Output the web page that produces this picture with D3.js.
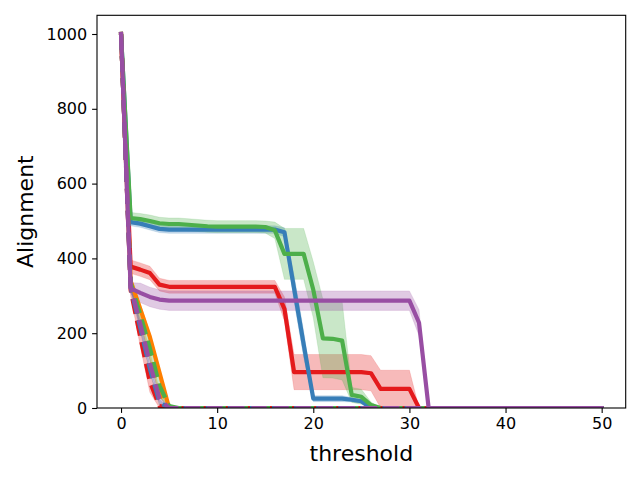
<!DOCTYPE html>
<html>
<head>
<meta charset="utf-8">
<script src="https://cdn.jsdelivr.net/npm/d3@7.9.0/dist/d3.min.js"></script>
<style>
  body { margin: 0; background: #fff; }
  svg { display: block; font-family: 'DejaVu Sans', sans-serif; }
</style>
</head>
<body>
<div id="chart"></div>
<script>
// thresholds on the x axis
const thresholds = [0,1,2,3,4,5,6,7,8,9,10,11,12,13,14,15,16,17,18,19,20,21,22,23,24,25,26,27,28,29,30,31,32,33,34,35,36,37,38,39,40,41,42,43,44,45,46,47,48,49,50];
const xTicks = [0, 10, 20, 30, 40, 50];
const yTicks = [0, 200, 400, 600, 800, 1000];

// solid runs (mean and spread)
const redSolid = [1000,378,370,361,330,324,324,324,324,324, 324,324,324,324,324,324,324,265,96,96, 96,96,96,96,96,96,93,51,51,51, 51,0,0,0,0,0,0,0,0,0, 0,0,0,0,0,0,0,0,0,0, 0];
const redSolidSd = [0,18,18,18,17,17,17,17,17,17, 17,17,17,17,17,17,17,32,47,47, 47,47,47,47,47,47,47,50,50,50, 50,0,0,0,0,0,0,0,0,0, 0,0,0,0,0,0,0,0,0,0, 0];
const blueSolid = [1000,497,493,486,479,477,477,477,477,477, 477,477,477,477,477,477,477,470,320,170, 25,25,25,25,22,18,0,0,0,0, 0,0,0,0,0,0,0,0,0,0, 0,0,0,0,0,0,0,0,0,0, 0];
const blueSolidSd = [0,10,10,10,10,10,10,10,10,10, 10,10,10,10,10,10,10,12,35,35, 8,8,8,8,6,5,0,0,0,0, 0,0,0,0,0,0,0,0,0,0, 0,0,0,0,0,0,0,0,0,0, 0];
const greenSolid = [1000,508,505,500,494,492,492,490,488,486, 485,485,485,485,485,484,475,412,412,412, 316,186,185,180,35,30,8,0,0,0, 0,0,0,0,0,0,0,0,0,0, 0,0,0,0,0,0,0,0,0,0, 0];
const greenSolidSd = [0,15,15,16,16,16,16,16,16,16, 16,16,16,16,16,16,22,68,68,68, 75,105,105,105,20,20,8,0,0,0, 0,0,0,0,0,0,0,0,0,0, 0,0,0,0,0,0,0,0,0,0, 0];
const orangeSolid = [1000,340,265,190,95,0,0,0,0,0, 0,0,0,0,0,0,0,0,0,0, 0,0,0,0,0,0,0,0,0,0, 0,0,0,0,0,0,0,0,0,0, 0,0,0,0,0,0,0,0,0,0, 0];
const orangeSolidSd = [0,10,12,12,12,0,0,0,0,0, 0,0,0,0,0,0,0,0,0,0, 0,0,0,0,0,0,0,0,0,0, 0,0,0,0,0,0,0,0,0,0, 0,0,0,0,0,0,0,0,0,0, 0];
const purpleSolid = [1000,320,308,297,290,287,287,287,287,287, 287,287,287,287,287,287,287,287,287,287, 287,287,287,287,287,287,287,287,287,287, 287,228,0,0,0,0,0,0,0,0, 0,0,0,0,0,0,0,0,0,0, 0];
const purpleSolidSd = [0,15,26,26,26,26,26,26,26,26, 26,26,26,26,26,26,26,26,26,26, 26,26,26,26,26,26,26,26,26,26, 26,35,0,0,0,0,0,0,0,0, 0,0,0,0,0,0,0,0,0,0, 0];

// dashed runs (mean and spread)
const redDash = [1000,315,190,70,5,0,0,0,0,0, 0,0,0,0,0,0,0,0,0,0, 0,0,0,0,0,0,0,0,0,0, 0,0,0,0,0,0,0,0,0,0, 0,0,0,0,0,0,0,0,0,0, 0];
const redDashSd = [0,15,25,28,10,0,0,0,0,0, 0,0,0,0,0,0,0,0,0,0, 0,0,0,0,0,0,0,0,0,0, 0,0,0,0,0,0,0,0,0,0, 0,0,0,0,0,0,0,0,0,0, 0];
const blueDash = [1000,322,215,105,15,0,0,0,0,0, 0,0,0,0,0,0,0,0,0,0, 0,0,0,0,0,0,0,0,0,0, 0,0,0,0,0,0,0,0,0,0, 0,0,0,0,0,0,0,0,0,0, 0];
const blueDashSd = [0,8,10,10,8,0,0,0,0,0, 0,0,0,0,0,0,0,0,0,0, 0,0,0,0,0,0,0,0,0,0, 0,0,0,0,0,0,0,0,0,0, 0,0,0,0,0,0,0,0,0,0, 0];
const greenDash = [1000,335,250,160,60,5,0,0,0,0, 0,0,0,0,0,0,0,0,0,0, 0,0,0,0,0,0,0,0,0,0, 0,0,0,0,0,0,0,0,0,0, 0,0,0,0,0,0,0,0,0,0, 0];
const greenDashSd = [0,15,28,32,32,6,0,0,0,0, 0,0,0,0,0,0,0,0,0,0, 0,0,0,0,0,0,0,0,0,0, 0,0,0,0,0,0,0,0,0,0, 0,0,0,0,0,0,0,0,0,0, 0];
const orangeDash = [1000,330,240,140,40,0,0,0,0,0, 0,0,0,0,0,0,0,0,0,0, 0,0,0,0,0,0,0,0,0,0, 0,0,0,0,0,0,0,0,0,0, 0,0,0,0,0,0,0,0,0,0, 0];
const orangeDashSd = [0,8,10,10,8,0,0,0,0,0, 0,0,0,0,0,0,0,0,0,0, 0,0,0,0,0,0,0,0,0,0, 0,0,0,0,0,0,0,0,0,0, 0,0,0,0,0,0,0,0,0,0, 0];
const purpleDash = [1000,325,225,120,25,0,0,0,0,0, 0,0,0,0,0,0,0,0,0,0, 0,0,0,0,0,0,0,0,0,0, 0,0,0,0,0,0,0,0,0,0, 0,0,0,0,0,0,0,0,0,0, 0];
const purpleDashSd = [0,8,10,10,8,0,0,0,0,0, 0,0,0,0,0,0,0,0,0,0, 0,0,0,0,0,0,0,0,0,0, 0,0,0,0,0,0,0,0,0,0, 0,0,0,0,0,0,0,0,0,0, 0];

const red = '#e41a1c', blue = '#377eb8', green = '#4daf4a', purple = '#984ea3', orange = '#ff7f00';

// drawing order: later entries sit on top
const series = [
  { mean: orangeSolid, sd: orangeSolidSd, color: orange, dashed: false },
  { mean: redSolid, sd: redSolidSd, color: red, dashed: false },
  { mean: blueSolid, sd: blueSolidSd, color: blue, dashed: false },
  { mean: greenSolid, sd: greenSolidSd, color: green, dashed: false },
  { mean: orangeDash, sd: orangeDashSd, color: orange, dashed: true },
  { mean: redDash, sd: redDashSd, color: red, dashed: true },
  { mean: blueDash, sd: blueDashSd, color: blue, dashed: true },
  { mean: greenDash, sd: greenDashSd, color: green, dashed: true },
  { mean: purpleSolid, sd: purpleSolidSd, color: purple, dashed: false },
  { mean: purpleDash, sd: purpleDashSd, color: purple, dashed: true },
];

const width = 640;
const height = 480;
const margin = { top: 15.3, right: 14.3, bottom: 72, left: 97 };

const svg = d3.select('#chart')
  .append('svg')
  .attr('width', width)
  .attr('height', height);

const x = d3.scaleLinear()
  .domain([-2.5, 52.5])
  .range([margin.left, width - margin.right]);

const y = d3.scaleLinear()
  .domain([0, 1050])
  .range([height - margin.bottom, margin.top]);

const plot = svg.append('g');
plot.append('clipPath').attr('id', 'clip')
  .append('rect')
  .attr('x', margin.left).attr('y', margin.top)
  .attr('width', width - margin.left - margin.right)
  .attr('height', height - margin.top - margin.bottom);

const body = plot.append('g').attr('clip-path', 'url(#clip)');

const area = d3.area()
  .x((d) => x(d.t))
  .y0((d) => y(Math.max(0, d.m - d.s)))
  .y1((d) => y(d.m + d.s));

const line = d3.line()
  .x((d) => x(d.t))
  .y((d) => y(d.m));

const rows = series.map((s) => thresholds.map((t, i) => ({ t, m: s.mean[i], s: s.sd[i] })));

// bands go underneath all lines
series.forEach((s, k) => {
  body.append('path')
    .attr('d', area(rows[k]))
    .attr('fill', s.color)
    .attr('fill-opacity', 0.3)
    .attr('stroke', s.color)
    .attr('stroke-opacity', 0.15)
    .attr('stroke-width', 1);
});

series.forEach((s, k) => {
  body.append('path')
    .attr('d', line(rows[k]))
    .attr('fill', 'none')
    .attr('stroke', s.color)
    .attr('stroke-width', 4.2)
    .attr('stroke-linejoin', 'round')
    .attr('stroke-linecap', s.dashed ? 'butt' : 'square')
    .attr('stroke-dasharray', s.dashed ? '15.4,6.7' : null);
});

// axes
const xAxis = svg.append('g')
  .attr('transform', `translate(0,${height - margin.bottom})`)
  .call(d3.axisBottom(x).tickValues(xTicks).tickFormat(d3.format('d')).tickSize(4.9).tickPadding(4.9));
const yAxis = svg.append('g')
  .attr('transform', `translate(${margin.left},0)`)
  .call(d3.axisLeft(y).tickValues(yTicks).tickFormat(d3.format('d')).tickSize(4.9).tickPadding(4.9));

[xAxis, yAxis].forEach((g) => {
  g.select('.domain').remove();
  g.selectAll('line').attr('stroke', '#000').attr('stroke-width', 1.1);
  g.selectAll('text')
    .attr('fill', '#000')
    .style('font-family', 'DejaVu Sans, sans-serif')
    .style('font-size', '16px');
});

svg.append('rect')
  .attr('x', margin.left).attr('y', margin.top)
  .attr('width', width - margin.left - margin.right)
  .attr('height', height - margin.top - margin.bottom)
  .attr('fill', 'none')
  .attr('stroke', '#000')
  .attr('stroke-width', 1.1);

svg.append('text')
  .attr('x', x(25))
  .attr('y', 461)
  .attr('text-anchor', 'middle')
  .style('font-size', '22px')
  .text('threshold');

svg.append('text')
  .attr('transform', `translate(33,${(margin.top + height - margin.bottom) / 2}) rotate(-90)`)
  .attr('text-anchor', 'middle')
  .style('font-size', '22px')
  .text('Alignment');
</script>
</body>
</html>
